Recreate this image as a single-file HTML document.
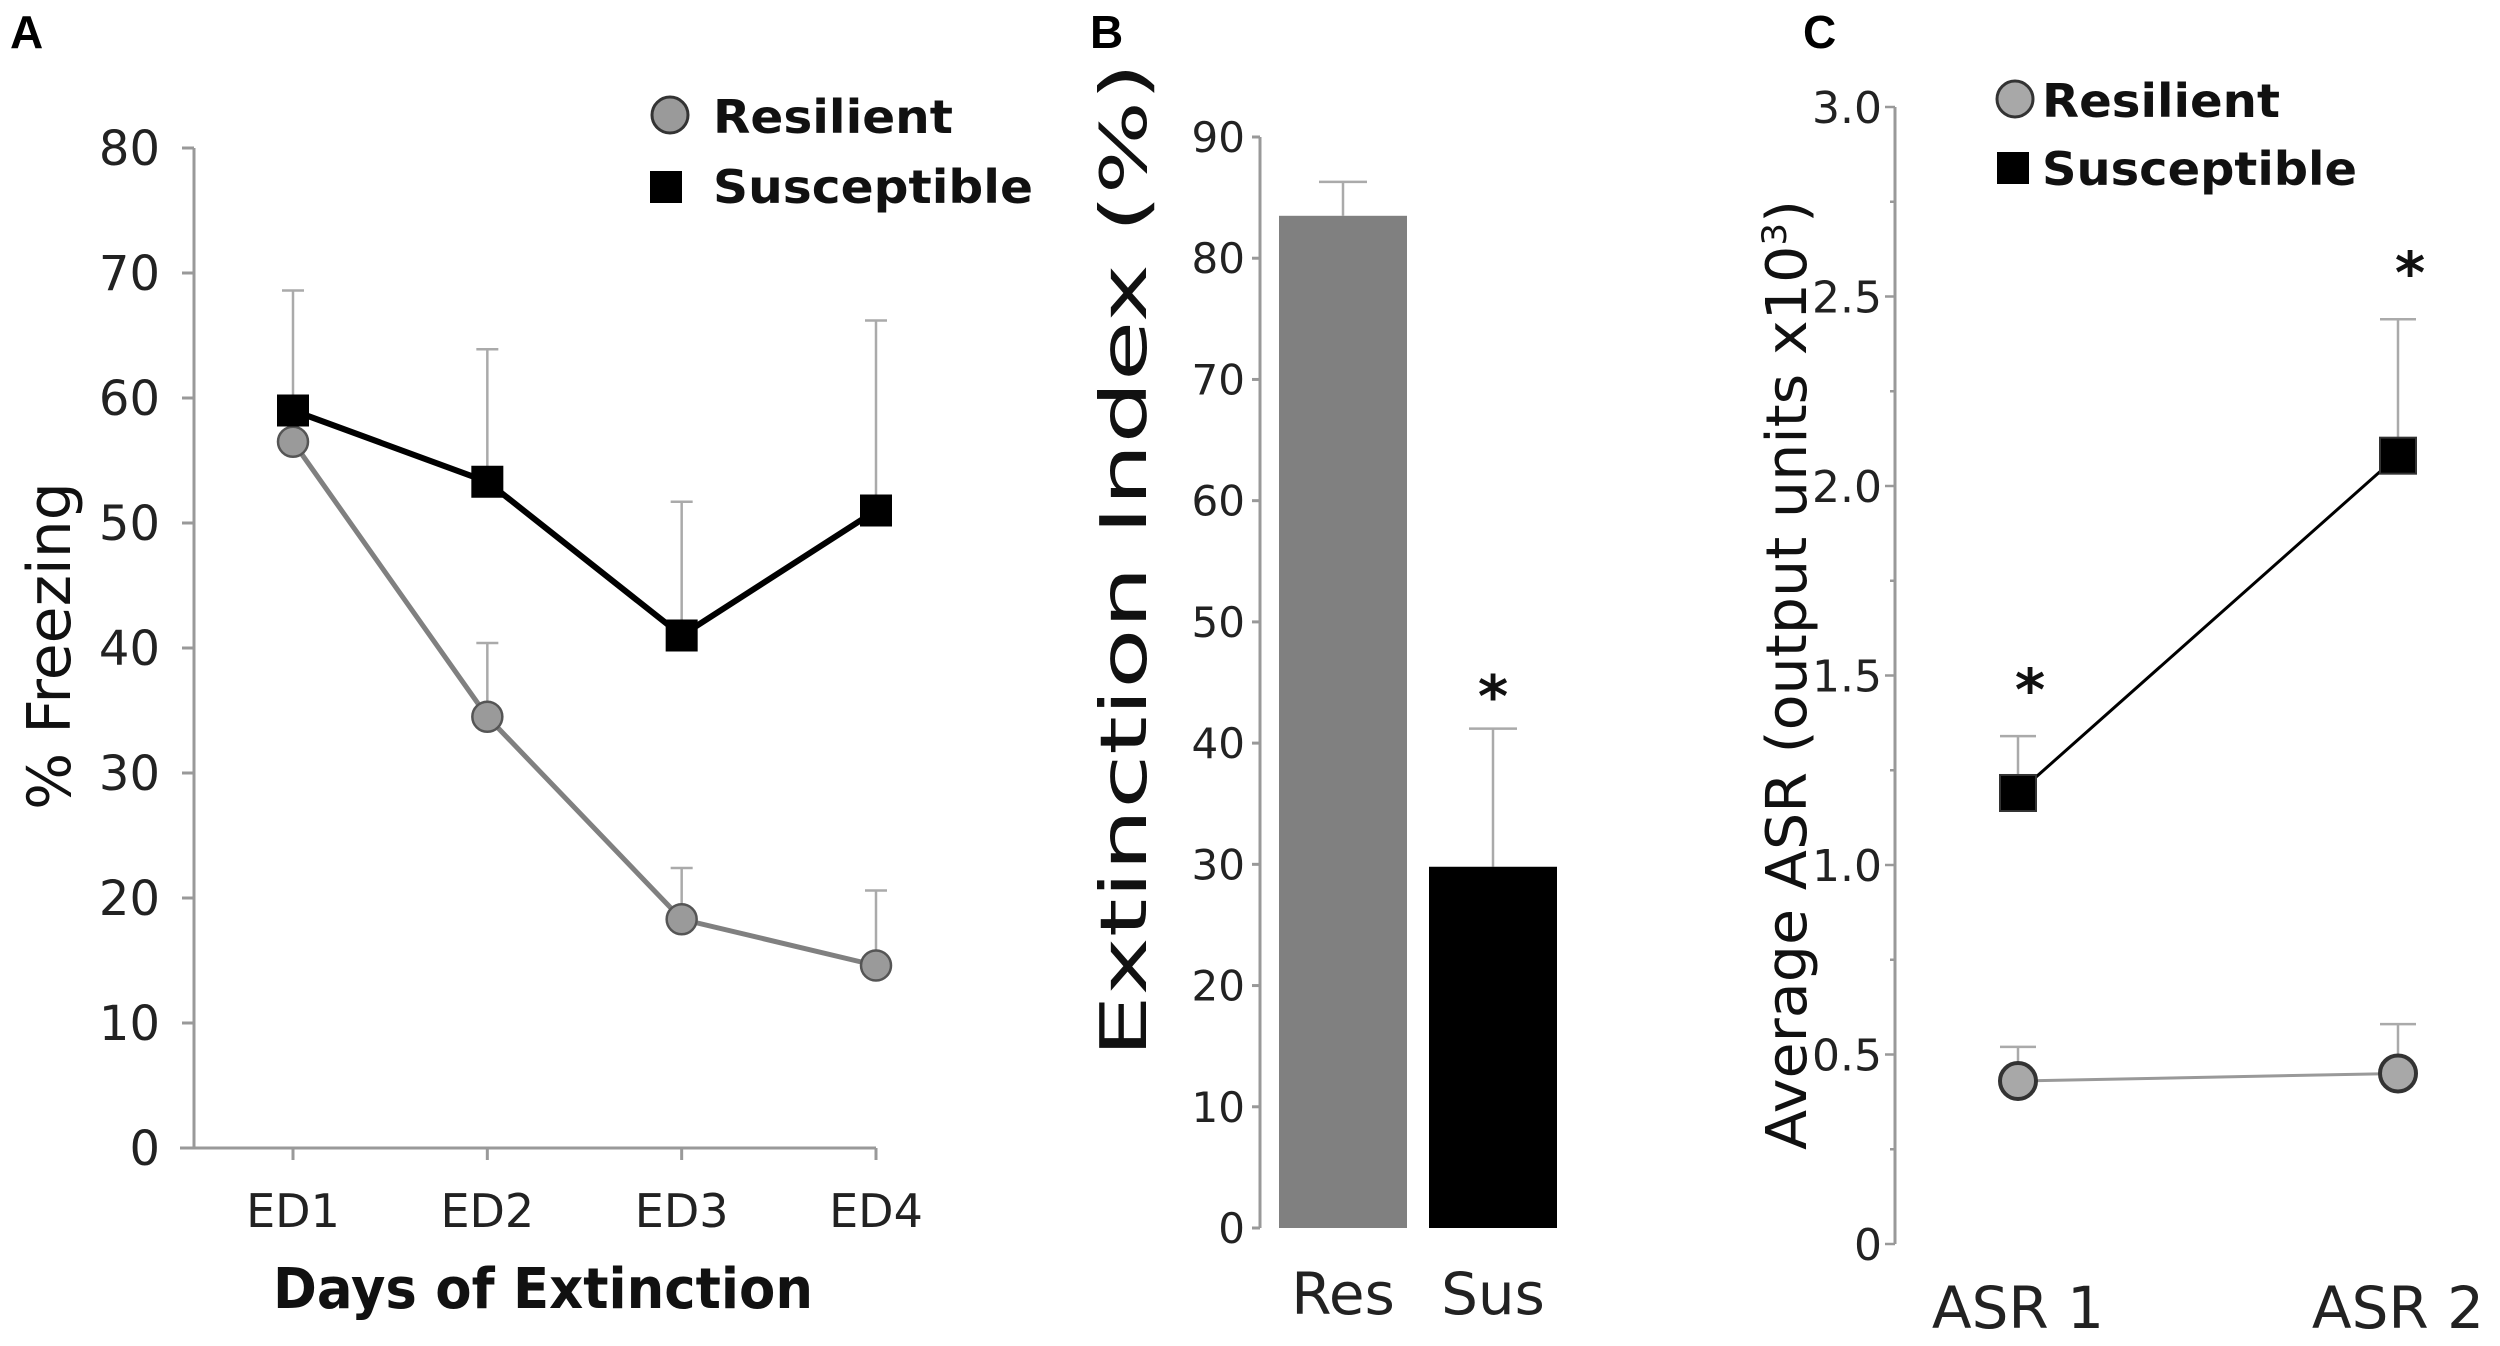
<!DOCTYPE html>
<html><head><meta charset="utf-8"><style>
html,body{margin:0;padding:0;background:#fff;}
svg{display:block;font-family:"DejaVu Sans","Liberation Sans",sans-serif;}
</style></head><body>
<svg id="fig" width="2500" height="1346" viewBox="0 0 2500 1346" xmlns="http://www.w3.org/2000/svg">
<text x="10" y="48" font-size="46" font-weight="bold" font-family="Liberation Sans, sans-serif">A</text>
<text x="1090" y="48" font-size="46" font-weight="bold" font-family="Liberation Sans, sans-serif">B</text>
<text x="1803" y="48" font-size="46" font-weight="bold" font-family="Liberation Sans, sans-serif">C</text>
<g id="pa"></g>
<g id="pb"></g>
<g id="pc"></g>
</svg>
<script>
// Panel A data
const aDays = ["ED1","ED2","ED3","ED4"];
const aResilient = [56.5, 34.5, 18.3, 14.6];
const aResilientErr = [60, 40.4, 22.4, 20.6];
const aSusceptible = [59, 53.3, 41, 51];
const aSusceptibleErr = [68.6, 63.9, 51.7, 66.2];
const aTicks = [0,10,20,30,40,50,60,70,80];
// Panel B data
const bGroups = ["Res","Sus"];
const bValues = [83.5, 29.8];
const bErr = [86.3, 41.2];
const bTicks = [0,10,20,30,40,50,60,70,80,90];
// Panel C data
const cSessions = ["ASR 1","ASR 2"];
const cResilient = [0.43, 0.45];
const cResilientErr = [0.52, 0.58];
const cSusceptible = [1.19, 2.08];
const cSusceptibleErr = [1.34, 2.44];
const cTicks = ["0","0.5","1.0","1.5","2.0","2.5","3.0"];

const NS = "http://www.w3.org/2000/svg";
function mk(parent, tag, attrs, text){
  const e = document.createElementNS(NS, tag);
  for (const k in attrs) e.setAttribute(k, attrs[k]);
  if (text !== undefined) e.textContent = text;
  parent.appendChild(e);
  return e;
}
const AX = "#999";

// ---------- Panel A ----------
(function(){
  const g = document.getElementById('pa');
  const x0 = 194, yB = 1148, yT = 148;
  const y = v => yB - (v/80)*(yB-yT);
  const xs = [293, 488, 683, 876];
  const x = i => xs[0] + i*(xs[3]-xs[0])/(aDays.length-1);
  let e = mk(g,'line',{x1:x0,y1:yT,x2:x0,y2:yB,stroke:AX,'stroke-width':3});
   
  e = mk(g,'line',{x1:180,y1:yB,x2:x(3),y2:yB,stroke:AX,'stroke-width':3});
   
  aTicks.forEach(t=>{
    e = mk(g,'line',{x1:182,y1:y(t),x2:x0,y2:y(t),stroke:AX,'stroke-width':3});
     
    e = mk(g,'text',{x:160,y:y(t)+17,'font-size':48,'text-anchor':'end',fill:'#222'},String(t));
     
  });
  aDays.forEach((d,i)=>{
    e = mk(g,'line',{x1:x(i),y1:yB,x2:x(i),y2:yB+12,stroke:AX,'stroke-width':3});
     
    e = mk(g,'text',{x:x(i),y:1227,'font-size':46,'text-anchor':'middle',fill:'#222'},d);
     
  });
  e = mk(g,'text',{x:0,y:0,'font-size':60,'text-anchor':'middle',fill:'#111',transform:'translate(70,646) rotate(-90)'},"% Freezing");
   
  e = mk(g,'text',{x:543,y:1308,'font-size':56,'font-weight':'bold','text-anchor':'middle',textLength:540,lengthAdjust:'spacingAndGlyphs',fill:'#111'},"Days of Extinction");
   
  [[aResilient,aResilientErr],[aSusceptible,aSusceptibleErr]].forEach(([v,er])=>{
    v.forEach((val,i)=>{
      e = mk(g,'line',{x1:x(i),y1:y(val),x2:x(i),y2:y(er[i]),stroke:'#aaa','stroke-width':2.5});
       
      e = mk(g,'line',{x1:x(i)-11,y1:y(er[i]),x2:x(i)+11,y2:y(er[i]),stroke:'#aaa','stroke-width':2.5});
       
    });
  });
  e = mk(g,'polyline',{points:aResilient.map((v,i)=>x(i)+','+y(v)).join(' '),fill:'none',stroke:'#808080','stroke-width':5});
   
  e = mk(g,'polyline',{points:aSusceptible.map((v,i)=>x(i)+','+y(v)).join(' '),fill:'none',stroke:'#000','stroke-width':6});
   
  aResilient.forEach((v,i)=>{
    e = mk(g,'circle',{cx:x(i),cy:y(v),r:15,fill:'#9a9a9a',stroke:'#555','stroke-width':2.5});
     
  });
  aSusceptible.forEach((v,i)=>{
    e = mk(g,'rect',{x:x(i)-16,y:y(v)-16,width:32,height:32,fill:'#000'});
     
  });
  e = mk(g,'circle',{cx:670,cy:115,r:18,fill:'#9a9a9a',stroke:'#333','stroke-width':3});
   
  e = mk(g,'text',{x:713,y:133,'font-size':46,'font-weight':'bold',textLength:240,lengthAdjust:'spacingAndGlyphs',fill:'#111'},"Resilient");
   
  e = mk(g,'rect',{x:650,y:171,width:32,height:32,fill:'#000'});
   
  e = mk(g,'text',{x:713,y:203,'font-size':46,'font-weight':'bold',textLength:320,lengthAdjust:'spacingAndGlyphs',fill:'#111'},"Susceptible");
   
})();

// ---------- Panel B ----------
(function(){
  const g = document.getElementById('pb');
  const x0 = 1260, yB = 1228, yT = 137;
  const y = v => yB - (v/90)*(yB-yT);
  const bx = [1279, 1429], bw = 128;
  let e = mk(g,'line',{x1:x0,y1:yT,x2:x0,y2:yB,stroke:AX,'stroke-width':3});
   
  bTicks.forEach(t=>{
    e = mk(g,'line',{x1:x0-8,y1:y(t),x2:x0,y2:y(t),stroke:AX,'stroke-width':3});
     
    e = mk(g,'text',{x:1245,y:y(t)+15,'font-size':42,'text-anchor':'end',fill:'#222'},String(t));
     
  });
  const cols = ['#808080','#000'];
  bGroups.forEach((gname,i)=>{
    const cx = bx[i]+bw/2;
    e = mk(g,'line',{x1:cx,y1:y(bValues[i]),x2:cx,y2:y(bErr[i]),stroke:'#aaa','stroke-width':2.5});
     
    e = mk(g,'line',{x1:cx-24,y1:y(bErr[i]),x2:cx+24,y2:y(bErr[i]),stroke:'#aaa','stroke-width':2.5});
     
    e = mk(g,'rect',{x:bx[i],y:y(bValues[i]),width:bw,height:yB-y(bValues[i]),fill:cols[i]});
     
    e = mk(g,'text',{x:cx,y:1314,'font-size':58,'text-anchor':'middle',fill:'#222'},gname);
     
  });
  e = mk(g,'text',{x:bx[1]+bw/2,y:y(bErr[1])-12,'font-size':58,'font-weight':'bold','text-anchor':'middle',fill:'#111'},"*");
   
  e = mk(g,'text',{x:0,y:0,'font-size':64,'text-anchor':'middle',textLength:995,lengthAdjust:'spacingAndGlyphs',fill:'#111',transform:'translate(1146,560) rotate(-90)'},"Extinction Index (%)");
   
})();

// ---------- Panel C ----------
(function(){
  const g = document.getElementById('pc');
  const x0 = 1895, yB = 1244, yT = 107;
  const y = v => yB - (v/3)*(yB-yT);
  const xs = [2018, 2398];
  let e = mk(g,'line',{x1:x0,y1:yT,x2:x0,y2:yB,stroke:AX,'stroke-width':3});
   
  for (let k=0;k<=12;k++){
    const v = k*0.25;
    e = mk(g,'line',{x1:x0-(k%2?5:10),y1:y(v),x2:x0,y2:y(v),stroke:AX,'stroke-width':2.5});
     
  }
  cTicks.forEach((t,k)=>{
    e = mk(g,'text',{x:1882,y:y(k*0.5)+16,'font-size':44,'text-anchor':'end',fill:'#222'},t);
     
  });
  cSessions.forEach((s,i)=>{
    e = mk(g,'text',{x:xs[i],y:1328,'font-size':58,'text-anchor':'middle',fill:'#222'},s);
     
  });
  [[cResilient,cResilientErr],[cSusceptible,cSusceptibleErr]].forEach(([v,er])=>{
    v.forEach((val,i)=>{
      e = mk(g,'line',{x1:xs[i],y1:y(val),x2:xs[i],y2:y(er[i]),stroke:'#aaa','stroke-width':2.5});
       
      e = mk(g,'line',{x1:xs[i]-18,y1:y(er[i]),x2:xs[i]+18,y2:y(er[i]),stroke:'#aaa','stroke-width':2.5});
       
    });
  });
  e = mk(g,'polyline',{points:cResilient.map((v,i)=>xs[i]+','+y(v)).join(' '),fill:'none',stroke:'#999','stroke-width':3});
   
  e = mk(g,'polyline',{points:cSusceptible.map((v,i)=>xs[i]+','+y(v)).join(' '),fill:'none',stroke:'#000','stroke-width':3});
   
  cResilient.forEach((v,i)=>{
    e = mk(g,'circle',{cx:xs[i],cy:y(v),r:18,fill:'#a8a8a8',stroke:'#333','stroke-width':4});
     
  });
  cSusceptible.forEach((v,i)=>{
    e = mk(g,'rect',{x:xs[i]-18,y:y(v)-18,width:36,height:36,fill:'#000',stroke:'#333','stroke-width':2});
     
    e = mk(g,'text',{x:xs[i]+12,y:y(cSusceptibleErr[i])-26,'font-size':58,'font-weight':'bold','text-anchor':'middle',fill:'#111'},"*");
     
  });
  e = mk(g,'text',{x:0,y:0,'font-size':56,'text-anchor':'middle',textLength:950,lengthAdjust:'spacingAndGlyphs',fill:'#111',transform:'translate(1806,675) rotate(-90)'});
   
  e.appendChild(document.createTextNode("Average ASR  (output units x10"));
  mk(e,'tspan',{'font-size':34,dy:-20},"3");
  mk(e,'tspan',{dy:20},")");
  e = mk(g,'circle',{cx:2015,cy:99,r:18,fill:'#a8a8a8',stroke:'#333','stroke-width':3});
   
  e = mk(g,'text',{x:2042,y:117,'font-size':46,'font-weight':'bold',textLength:238,lengthAdjust:'spacingAndGlyphs',fill:'#111'},"Resilient");
   
  e = mk(g,'rect',{x:1997,y:152,width:32,height:32,fill:'#000'});
   
  e = mk(g,'text',{x:2042,y:185,'font-size':46,'font-weight':'bold',textLength:315,lengthAdjust:'spacingAndGlyphs',fill:'#111'},"Susceptible");
   
})();
</script>
</body></html>
